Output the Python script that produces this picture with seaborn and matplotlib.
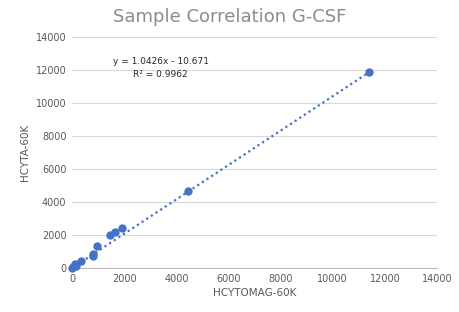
import numpy as np
import pandas as pd
from matplotlib import pyplot as plt
import seaborn as sns

# sample values
hcytomag = [11400, 4450, 1920, 1650, 1440, 950, 820, 800, 350, 120, 60, 20, 0, 150]
hcyta = [11900, 4650, 2450, 2200, 2000, 1330, 840, 700, 420, 240, 100, 60, 30, 150]
slope = 1.0426
intercept = -10.671
r2 = 0.9962

df = pd.DataFrame({'HCYTOMAG-60K': hcytomag, 'HCYTA-60K': hcyta})
line_x = np.array([0, max(hcytomag)])
df_fit = pd.DataFrame({'x': line_x, 'y': slope * line_x + intercept})

sns.set_style('white')
plt.rcParams['font.family'] = ['DejaVu Sans']
blue = '#4472C4'
grey = '#595959'

fig = plt.figure(figsize=(4.59, 3.12), dpi=100)
ax = fig.add_axes([0.157, 0.141, 0.795, 0.740])

sns.lineplot(data=df_fit, x='x', y='y', ax=ax, color=blue, linestyle=(0, (1, 1.5)), linewidth=1.6, zorder=2)
sns.scatterplot(data=df, x='HCYTOMAG-60K', y='HCYTA-60K', ax=ax, color=blue, s=36, edgecolor=blue, linewidth=0, zorder=3, clip_on=False)

ax.set_xlim(0, 14000)
ax.set_ylim(0, 14000)
ax.set_xticks(range(0, 14001, 2000))
ax.set_yticks(range(0, 14001, 2000))
ax.grid(axis='y', color='#D9D9D9', linewidth=0.8)
ax.set_axisbelow(True)
for s in ['left', 'right', 'top']:
    ax.spines[s].set_visible(False)
ax.spines['bottom'].set_color('#BFBFBF')
ax.tick_params(axis='both', length=0, labelsize=7, labelcolor=grey, pad=4)
ax.set_xlabel('HCYTOMAG-60K', fontsize=7.5, color=grey, labelpad=3)
ax.set_ylabel('HCYTA-60K', fontsize=7.5, color=grey, labelpad=4)
fig.suptitle('Sample Correlation G-CSF', fontsize=13, color='#8C8C8C', y=0.975)

ax.text(3400, 12500, f'y = {slope}x - {abs(intercept)}', fontsize=6.5, color='#262626', ha='center', va='center')
ax.text(3400, 11750, f'R² = {r2}', fontsize=6.5, color='#262626', ha='center', va='center')

fig.savefig('out.png', dpi=100)
